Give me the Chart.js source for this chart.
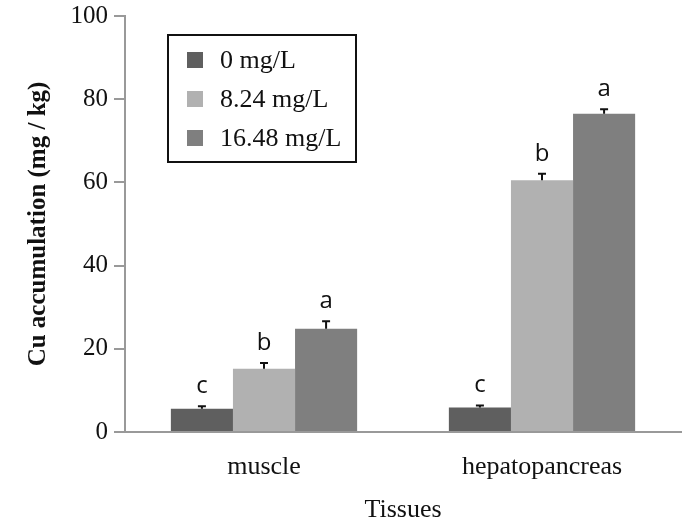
<!DOCTYPE html>
<html>
<head>
<meta charset="utf-8">
<script src="https://cdn.jsdelivr.net/npm/chart.js@4.4.0/dist/chart.umd.min.js"></script>
<style>
  html, body { margin: 0; padding: 0; background: #fff; }
  #wrap { width: 685px; height: 528px; }
</style>
</head>
<body>
<div id="wrap"><canvas id="cuChart" width="685" height="528"></canvas></div>
<script>
const tissues = ['muscle', 'hepatopancreas'];
const doseLabels = ['0 mg/L', '8.24 mg/L', '16.48 mg/L'];
const dose0 = [5.6, 5.9];
const dose824 = [15.2, 60.5];
const dose1648 = [24.8, 76.5];
const err0 = [0.6, 0.5];
const err824 = [1.4, 1.6];
const err1648 = [1.8, 1.1];
const letters0 = ['c', 'c'];
const letters824 = ['b', 'b'];
const letters1648 = ['a', 'a'];
const yTicks = [0, 20, 40, 60, 80, 100];

const barColors = ['#5f5f5f', '#b1b1b1', '#7f7f7f'];
const serif = '"Liberation Serif", "Times New Roman", serif';

// error bars + significance letters
const errorBarPlugin = {
    id: 'errorBars',
    afterDatasetsDraw(chart) {
        const ctx = chart.ctx;
        const y = chart.scales.y;
        ctx.save();
        chart.data.datasets.forEach((ds, i) => {
            const meta = chart.getDatasetMeta(i);
            meta.data.forEach((bar, j) => {
                const top = y.getPixelForValue(ds.data[j] + ds.errors[j]);
                ctx.strokeStyle = '#111';
                ctx.lineWidth = 2;
                ctx.beginPath();
                ctx.moveTo(bar.x, bar.y);
                ctx.lineTo(bar.x, top);
                ctx.moveTo(bar.x - 4, top);
                ctx.lineTo(bar.x + 4, top);
                ctx.stroke();
                ctx.fillStyle = '#111';
                ctx.font = '24px "Open Sans", "Liberation Sans", sans-serif';
                ctx.textAlign = 'center';
                ctx.textBaseline = 'bottom';
                ctx.fillText(ds.letters[j], bar.x, top - 8);
            });
        });
        ctx.restore();
    }
};

// boxed legend inside the plot
const boxLegendPlugin = {
    id: 'boxLegend',
    afterDraw(chart) {
        const ctx = chart.ctx;
        const x0 = 168, y0 = 35, w = 188, h = 127;
        ctx.save();
        ctx.fillStyle = '#fff';
        ctx.fillRect(x0, y0, w, h);
        ctx.strokeStyle = '#111';
        ctx.lineWidth = 2;
        ctx.strokeRect(x0, y0, w, h);
        ctx.font = '26px ' + serif;
        ctx.textBaseline = 'middle';
        ctx.textAlign = 'left';
        chart.data.datasets.forEach((ds, i) => {
            const cy = y0 + 25 + i * 39;
            ctx.fillStyle = ds.backgroundColor;
            ctx.fillRect(x0 + 19, cy - 8, 16, 16);
            ctx.fillStyle = '#111';
            ctx.fillText(ds.label, x0 + 52, cy + 1);
        });
        ctx.restore();
    }
};

const makeSet = (label, data, errors, letters, color) => ({
    label, data, errors, letters,
    backgroundColor: color,
    borderWidth: 0,
    categoryPercentage: 0.67,
    barPercentage: 1.0
});

new Chart(document.getElementById('cuChart').getContext('2d'), {
    type: 'bar',
    data: {
        labels: tissues,
        datasets: [
            makeSet(doseLabels[0], dose0, err0, letters0, barColors[0]),
            makeSet(doseLabels[1], dose824, err824, letters824, barColors[1]),
            makeSet(doseLabels[2], dose1648, err1648, letters1648, barColors[2])
        ]
    },
    options: {
        responsive: false,
        animation: false,
        layout: { padding: { top: 16, right: 4, left: 0, bottom: 0 } },
        plugins: {
            legend: { display: false },
            tooltip: { enabled: false }
        },
        scales: {
            x: {
                grid: { display: true, drawOnChartArea: false, drawTicks: false },
                border: { display: true, color: '#999', width: 2 },
                ticks: {
                    color: '#111',
                    padding: 20,
                    font: { family: serif, size: 26 }
                },
                title: {
                    display: true,
                    text: 'Tissues',
                    color: '#111',
                    padding: { top: 10, bottom: 2 },
                    font: { family: serif, size: 26 }
                },
                afterFit: (scale) => { scale.height = 96; }
            },
            y: {
                min: 0,
                max: 100,
                afterBuildTicks: (scale) => { scale.ticks = yTicks.map(v => ({ value: v })); },
                grid: { display: true, drawOnChartArea: false, drawTicks: true, tickLength: 11, color: '#999', lineWidth: 2 },
                border: { display: true, color: '#999', width: 2 },
                ticks: {
                    color: '#111',
                    padding: 6,
                    font: { family: serif, size: 25 }
                },
                title: {
                    display: true,
                    text: 'Cu accumulation (mg / kg)',
                    color: '#111',
                    padding: { top: 24, bottom: 0 },
                    font: { family: serif, size: 25, weight: 'bold' }
                },
                afterFit: (scale) => {
                    scale.width = 125;
                    scale.paddingTop = 0;
                    scale.paddingBottom = 0;
                }
            }
        }
    },
    plugins: [errorBarPlugin, boxLegendPlugin]
});
</script>
</body>
</html>
